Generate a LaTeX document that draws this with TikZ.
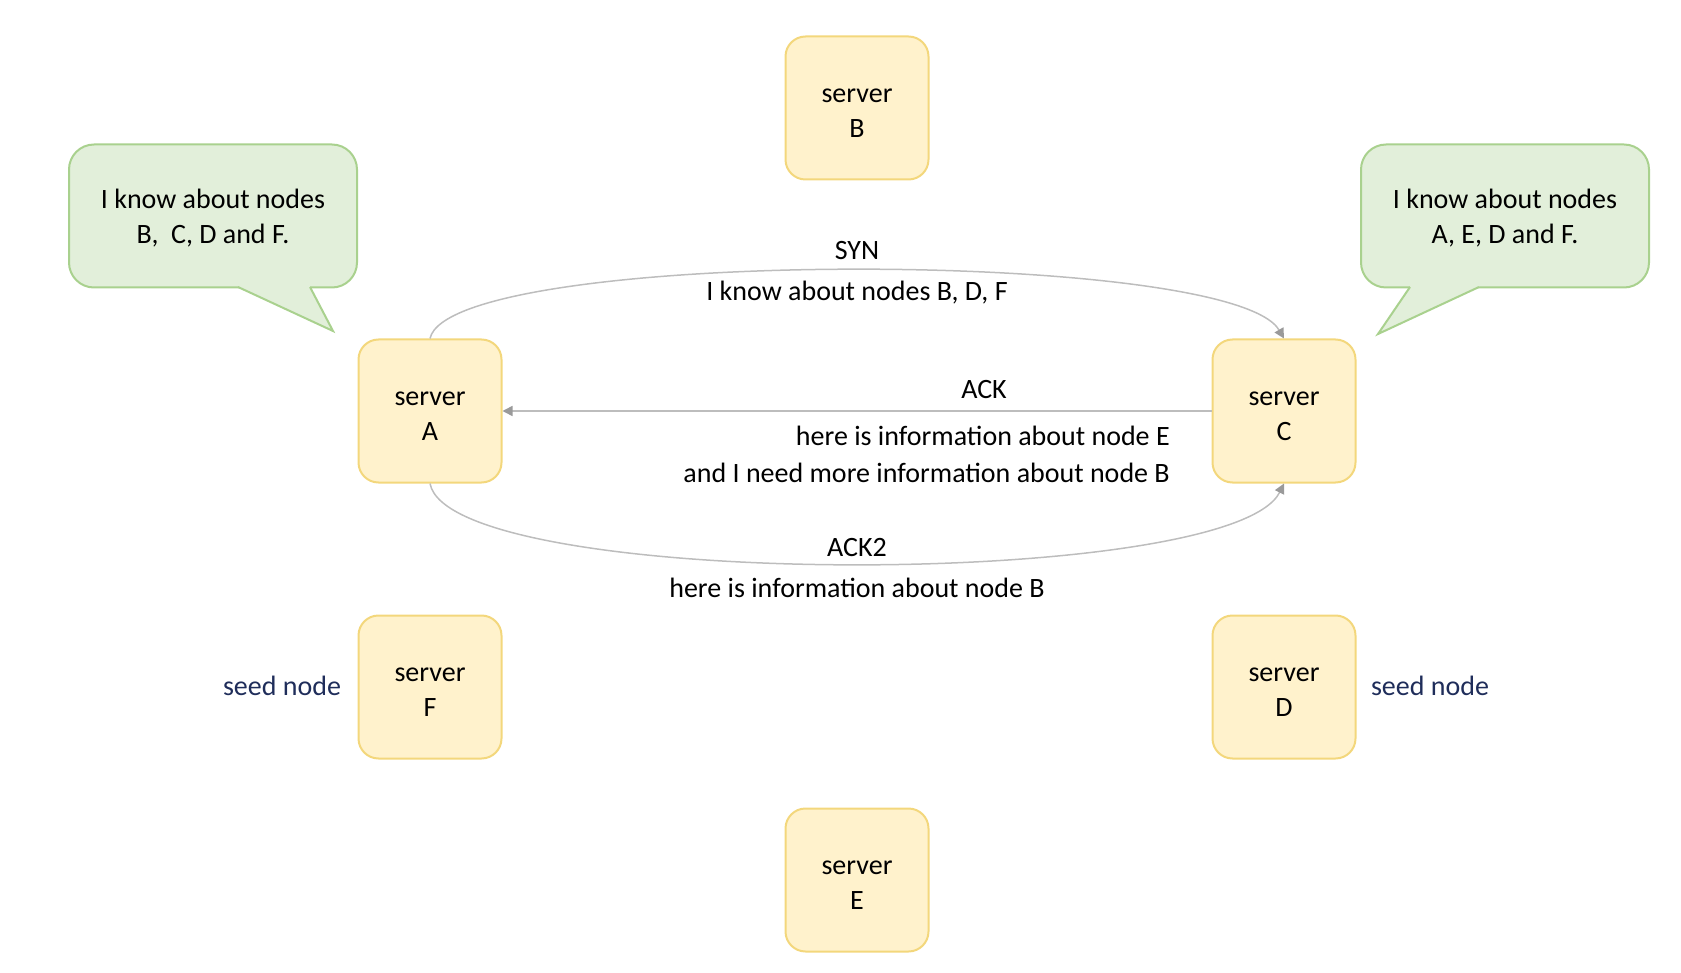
\documentclass[tikz,border=0pt]{standalone}
\usepackage{fontspec}
\setmainfont{Carlito}
\usetikzlibrary{arrows.meta}
\definecolor{srvfill}{HTML}{FFF2CC}
\definecolor{srvline}{HTML}{F3D77C}
\definecolor{bubfill}{HTML}{E2EFDA}
\definecolor{bubline}{HTML}{A9D18E}
\definecolor{seedtext}{HTML}{1F2D5A}
\definecolor{msgline}{HTML}{BDBDBD}
\definecolor{msgtip}{HTML}{9A9A9A}
\tikzset{
    server/.style={draw=srvline, fill=srvfill, line width=2pt, rounded corners=20pt, minimum width=143pt, minimum height=143pt, align=center, font=\fontsize{28}{35}\selectfont},
    bubble/.style={draw=bubline, fill=bubfill, line width=2pt, rounded corners=25pt, minimum width=288pt, minimum height=143pt, align=center, font=\fontsize{28}{35}\selectfont},
    tail/.style={draw=bubline, line width=2pt, line join=miter},
    msg/.style={draw=msgline, line width=1.5pt, -{Triangle[length=10pt,width=10pt,color=msgtip]}},
    lbl/.style={font=\fontsize{28}{37}\selectfont, inner sep=0pt, anchor=base},
    seed/.style={text=seedtext, font=\fontsize{28}{35}\selectfont, inner sep=0pt}
}

\begin{document}
\begin{tikzpicture}[x=1pt,y=-1pt]
    \useasboundingbox (0,0) rectangle (1681,973);
    % servers
    \node[server] (srvB) at (857,108) {\strut server\\B};
    \node[server] (srvA) at (430,411) {\strut server\\A};
    \node[server] (srvC) at (1284,411) {\strut server\\C};
    \node[server] (srvF) at (430,687) {\strut server\\F};
    \node[server] (srvD) at (1284,687) {\strut server\\D};
    \node[server] (srvE) at (857,880) {\strut server\\E};
    % speech bubbles
    \node[bubble] (bubA) at (213,216) {\strut I know about nodes\\B,~ C, D and F.};
    \fill[bubfill] (238,280) -- (238,287) -- (333,331) -- (310,287) -- (310,280) -- cycle;
    \draw[tail] (238,287) -- (333,331) -- (310,287);
    \node[bubble] (bubC) at (1505,216) {\strut I know about nodes\\A, E, D and F.};
    \fill[bubfill] (1410,280) -- (1410,287) -- (1378,334) -- (1479,287) -- (1479,280) -- cycle;
    \draw[tail] (1410,287) -- (1378,334) -- (1479,287);
    % messages
    \draw[msg] (srvA.north) .. controls +(20,-91) and +(-53,-91) .. (srvC.north);
    \draw[msg] (srvC.west) -- (srvA.east);
    \draw[msg] (srvA.south) .. controls +(20,107) and +(-53,107) .. (srvC.south);
    % labels
    \node[lbl] (synT) at (857,260) {SYN};
    \node[lbl] (synB) at (857,301) {I know about nodes B, D, F};
    \node[lbl] (ackT) at (984,399) {ACK};
    \node[lbl, anchor=base east, align=right] (ackB) at (1170,482) {here is information about node E\\and I need more information about node B};
    \node[lbl] (ackiiT) at (857,556) {ACK2};
    \node[lbl] (ackiiB) at (857,597) {here is information about node B};
    \node[seed] (seedF) at (282,686) {seed node};
    \node[seed] (seedD) at (1430,686) {seed node};
\end{tikzpicture}
\end{document}
